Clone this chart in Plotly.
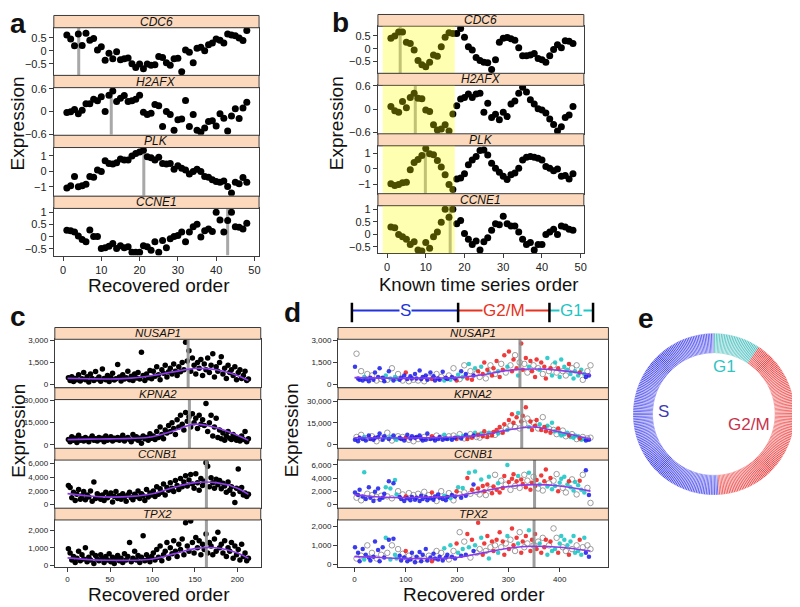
import plotly.graph_objects as go

# ======================= DATA =======================
genes_ab = ["CDC6", "H2AFX", "PLK", "CCNE1"]
x_ab = list(range(1, 49))

a_CDC6 = [0.61, 0.46, 0.2, 0.65, 0.21, 0.68, 0.41, 0.48, 0.04, 0.16,
          -0.36, -0.09, -0.3, -0.03, -0.34, -0.3, -0.27, -0.49, -0.64, -0.5,
          -0.68, -0.5, -0.55, -0.53, -0.21, -0.25, -0.45, -0.55, -0.3, -0.28,
          -0.8, 0.04, -0.05, -0.45, 0.1, 0.14, 0.01, 0.24, 0.3, 0.46,
          0.41, 0.3, 0.65, 0.61, 0.58, 0.5, 0.4, 0.78]
a_H2AFX = [-0.03, -0.01, 0.05, -0.06, 0.03, 0.2, 0.2, 0.32, 0.28, 0.39,
           0.0, 0.43, 0.54, 0.26, 0.35, 0.42, 0.26, 0.28, 0.32, 0.43,
           -0.02, -0.08, -0.05, 0.18, 0.15, -0.4, 0.0, -0.08, -0.5, -0.22,
           -0.2, 0.29, -0.4, -0.08, -0.5, -0.55, -0.44, -0.27, -0.25, -0.39,
           -0.06, -0.18, -0.52, -0.12, 0.07, -0.19, 0.09, 0.24]
a_PLK = [-1.08, -0.94, -0.34, -1.0, -0.94, -0.83, -0.34, -0.38, 0.08, -0.02,
         0.68, 0.5, 0.47, 0.55, 0.79, 0.72, 0.72, 0.98, 1.15, 1.25,
         1.36, 0.94, 0.87, 0.72, 0.9, 0.5, 0.47, 0.5, 0.13, 0.36,
         0.19, 0.08, -0.17, -0.02, 0.13, -0.02, -0.34, -0.38, -0.55, -0.66,
         -0.7, -0.62, -0.98, -1.4, -0.7, -0.81, -0.4, -0.7]
a_CCNE1 = [0.27, 0.25, 0.19, 0.03, -0.11, -0.21, 0.28, 0.01, 0.01, -0.48,
           -0.45, -0.39, -0.28, -0.48, -0.37, -0.45, -0.41, -0.64, -0.64, -0.64,
           -0.37, -0.41, -0.55, -0.21, -0.64, -0.15, -0.45, -0.08, 0.01, 0.05,
           0.19, -0.21, 0.19, 0.41, 0.51, -0.01, 0.25, 0.32, 0.21, 1.0,
           0.69, 0.19, 0.67, 1.0, 0.41, 0.39, 0.32, 0.55]

b_CDC6 = [0.41, 0.5, 0.66, 0.66, 0.25, 0.2, -0.05, -0.46, -0.63, -0.71,
          -0.53, -0.25, -0.3, 0.08, 0.45, 0.63, 0.6, 0.6, 0.79, 0.45,
          0.08, -0.05, -0.34, -0.46, -0.53, -0.55, -0.81, -0.43, 0.25, 0.41,
          0.44, 0.39, 0.33, 0.04, -0.28, -0.28, -0.25, -0.19, -0.38, -0.43,
          -0.53, -0.28, -0.03, 0.16, 0.04, 0.31, 0.29, 0.2]
b_H2AFX = [0.07, -0.04, -0.08, 0.2, 0.04, 0.3, 0.41, 0.28, 0.27, -0.02,
           -0.06, -0.4, -0.53, -0.51, -0.4, -0.56, -0.12, 0.09, 0.26, 0.3,
           0.39, 0.3, 0.39, 0.41, -0.08, 0.15, -0.21, -0.13, -0.27, -0.08,
           -0.19, 0.13, 0.21, 0.41, 0.56, 0.44, 0.24, 0.13, 0.01, -0.02,
           -0.1, -0.25, -0.39, -0.56, -0.45, -0.21, -0.15, 0.07]
b_PLK = [-0.97, -1.07, -1.01, -0.9, -0.86, -0.06, 0.4, 0.6, 0.85, 1.3,
         0.96, 0.9, 0.53, 0.11, -0.38, -1.01, -1.33, -0.65, -0.59, -0.32,
         0.25, 0.57, 0.79, 1.17, 1.21, 0.88, 0.36, 0.04, -0.23, -0.48,
         -0.69, -0.38, -0.27, 0.04, 0.57, 0.74, 0.79, 0.74, 0.67, 0.57,
         0.15, 0.04, -0.13, -0.02, -0.48, -0.44, -0.65, -0.32]
b_CCNE1 = [0.29, 0.26, -0.01, -0.1, -0.2, -0.41, -0.3, -0.63, -0.67, -0.33,
           -0.56, -0.1, 0.09, 0.48, 1.0, 0.68, 1.0, 0.42, 0.55, 0.03,
           -0.2, -0.41, -0.27, -0.63, -0.3, -0.14, 0.16, 0.42, 0.38, 0.72,
           0.42, 0.33, 0.33, 0.09, -0.2, -0.41, -0.33, -0.63, -0.41, -0.41,
           -0.01, 0.09, 0.2, -0.01, 0.33, 0.29, 0.2, 0.16]

a_peak = [4.1, 12.6, 21.1, 43.0]
b_peak = [3.4, 7.3, 9.9, 16.3]
b_known_span = [-1.1, 17.5]
ab_xticks = [0, 10, 20, 30, 40, 50]

genes_cd = ["NUSAP1", "KPNA2", "CCNB1", "TPX2"]
# panel c: every second cell of the recovered order (1, 3, 5, ... 213)
c_NUSAP1 = [450, 250, 520, 180, 400, 300, 650, 220, 380, 800,
            300, 520, 150, 700, 400, 250, 880, 350, 500, 200,
            1050, 400, 300, 600, 180, 450, 750, 280, 380, 1350,
            500, 220, 650, 350, 450, 900, 300, 550, 250, 700,
            420, 800, 350, 2200, 600, 250, 700, 450, 950, 380,
            900, 550, 1200, 650, 300, 1000, 750, 1300, 500, 850,
            1100, 700, 1400, 900, 600, 1200, 850, 1500, 1000, 2900,
            1600, 2300, 900, 1800, 1300, 700, 1500, 1100, 1700, 600,
            1400, 1000, 1800, 800, 1300, 2100, 500, 1200, 900, 1500,
            1900, 700, 1100, 400, 1300, 800, 1000, 600, 1200, 300,
            800, 1000, 400, 600, 900, 250, 350]
c_KPNA2 = [3500, 2000, 5500, 3000, 4500, 1500, 6500, 3000, 4000, 2500,
           5000, 3500, 2000, 4500, 6000, 3000, 4000, 2500, 5000, 3500,
           4500, 2000, 6000, 3000, 4000, 5500, 2500, 4500, 3500, 5000,
           3000, 4500, 6500, 2500, 4000, 5000, 3500, 2000, 7000, 4000,
           5500, 3000, 4500, 1000, 6000, 4000, 5000, 3000, 7500, 4500,
           6000, 3500, 9000, 5000, 12000, 7000, 4000, 10000, 8000, 13000,
           9000, 15000, 11000, 7000, 17000, 12000, 20000, 14000, 10000, 22000,
           16000, 19000, 12000, 21000, 15000, 18000, 11000, 20000, 14000, 17000,
           13000, 28000, 9000, 15000, 20000, 6000, 12000, 18000, 5000, 10000,
           4000, 8000, 3000, 6000, 9000, 4500, 3500, 7000, 5000, 3000,
           4500, 2500, 6000, 3500, 9000, 2000, 4000]
c_CCNB1 = [2800, 2500, 1000, 1800, 600, 1500, 2200, 800, 1300, 1900,
           700, 1400, 1100, 2000, 500, 3300, 900, 1600, 1300, 800,
           1400, 600, 1800, 1000, 1300, 1700, 400, 1200, 1900, 900,
           1300, 800, 1600, 1100, 500, 1400, 1800, 1000, 700, 1500,
           1200, 2000, 900, 1600, 1300, 600, 2200, 1100, 1700, 1400,
           2000, 1200, 2600, 1500, 2300, 1800, 3000, 1400, 2500, 2100,
           3200, 2400, 1900, 3500, 2800, 2200, 3800, 2600, 3300, 4200,
           2700, 3600, 4400, 3000, 2400, 4500, 3200, 2100, 3800, 2800,
           3400, 6100, 5600, 2600, 3900, 3200, 2400, 3700, 2900, 3500,
           2300, 3100, 2700, 1800, 3300, 2100, 2600, 1500, 300, 2400,
           5200, 1900, 2500, 1400, 1700, 1200, 1500]
c_TPX2 = [950, 700, 300, 500, 150, 400, 800, 250, 600, 350,
          1000, 200, 450, 300, 700, 100, 550, 350, 250, 600,
          400, 150, 500, 300, 650, 200, 450, 100, 350, 550,
          250, 400, 150, 650, 300, 500, 1300, 200, 400, 800,
          300, 550, 150, 450, 1700, 250, 600, 350, 200, 500,
          700, 300, 900, 450, 1100, 250, 600, 800, 1300, 400,
          1000, 650, 1400, 800, 500, 1200, 900, 1500, 600, 2450,
          1100, 800, 2550, 1300, 700, 1600, 1000, 1400, 600, 1200,
          900, 1800, 700, 1300, 1100, 600, 1500, 800, 1900, 1000,
          1200, 700, 1400, 500, 1000, 800, 1300, 400, 1100, 600,
          900, 300, 1200, 500, 700, 250, 400]
c_step = 2
c_peak = [142, 143.5, 163.5, 163.5]
c_fit_x = [0, 25, 50, 75, 100, 125, 150, 175, 200, 213]
c_fit_NUSAP1 = [400, 370, 360, 420, 600, 850, 1080, 1000, 600, 250]
c_fit_KPNA2 = [3500, 3800, 4000, 4300, 5500, 9500, 14000, 11500, 6500, 3000]
c_fit_CCNB1 = [1600, 1250, 1100, 1200, 1600, 2500, 3200, 3200, 2400, 1500]
c_fit_TPX2 = [420, 320, 280, 280, 350, 650, 950, 1000, 700, 400]
c_xticks = [0, 50, 100, 150, 200]

# panel d: every third cell of the recovered order (1, 4, 7, ... 460)
# phase code per cell: b = S, r = G2/M, c = G1, g = unlabelled
d_phase = list("bgbbgbcbgb" "bgbbgbbgbb" "cgbcgbccgb" "bgbrbgbbgb"
               "bgbbbgbbgb" "rbbgbbgbcb" "bgcbgbrcgb" "cgbrcgrbcg"
               "rgcrrgrcgr" "rgrcrgrrgc" "rgrrgrcgrr" "grgcrrgrrg"
               "crgrrcgrcg" "cgrccgcgcr" "cgccgcrcgc" "bgbg")
d_NUSAP1 = [1200, 2100, 400, 300, 900, 250, 500, 350, 700, 200,
            450, 600, 300, 800, 250, 500, 1100, 350, 450, 200,
            600, 300, 900, 400, 1100, 250, 500, 350, 700, 300,
            450, 250, 600, 800, 350, 200, 550, 400, 300, 700,
            400, 250, 950, 350, 500, 200, 600, 300, 450, 800,
            350, 550, 250, 700, 400, 300, 500, 850, 250, 450,
            350, 600, 300, 500, 1100, 400, 250, 650, 350, 900,
            500, 1300, 700, 400, 1400, 900, 300, 600, 1100, 750,
            900, 500, 1200, 700, 1500, 400, 1000, 800, 1300, 600,
            1100, 700, 1600, 900, 500, 1400, 1000, 2000, 800, 1200,
            2250, 1300, 900, 1700, 2000, 1100, 600, 1500, 2800, 1000,
            1400, 1800, 800, 1200, 1600, 900, 1300, 500, 1700, 1100,
            1000, 1500, 700, 1200, 400, 1800, 900, 1100, 600, 1300,
            1500, 800, 1100, 500, 1700, 900, 1200, 600, 1000, 1400,
            700, 1100, 400, 900, 1300, 600, 800, 1000, 300, 700,
            500, 900, 600, 1300]
d_KPNA2 = [3000, 5000, 2000, 4500, 6500, 3500, 5000, 2500, 4000, 6000,
           3500, 5500, 3000, 4500, 2000, 5000, 7500, 4000, 3000, 5500,
           4500, 8000, 3500, 5000, 2500, 6000, 4000, 3000, 5500, 4500,
           3500, 5000, 2500, 4500, 6500, 3000, 4000, 5500, 2000, 4500,
           5000, 3500, 6000, 4000, 2500, 5000, 3000, 7500, 4500, 3500,
           5500, 4000, 2500, 6000, 3500, 5000, 4500, 3000, 6500, 4000,
           3500, 5500, 4000, 3000, 6000, 4500, 3500, 5000, 7000, 4000,
           5500, 4000, 6500, 3500, 5000, 7000, 4500, 6000, 8000, 5000,
           6500, 4500, 7500, 5500, 9000, 6000, 5000, 8000, 7000, 6000,
           8500, 6500, 10000, 7500, 12000, 9000, 8000, 14000, 11000, 10000,
           17000, 13000, 21000, 15000, 12000, 19000, 22000, 11000, 16000, 20000,
           14000, 26000, 18000, 12000, 16000, 10000, 15000, 13000, 17000, 11000,
           14000, 10000, 19000, 12000, 9000, 13000, 11000, 8000, 15000, 10000,
           9000, 7000, 11000, 8000, 6000, 9500, 7000, 5500, 8000, 6000,
           5000, 7000, 4500, 6000, 3500, 5500, 4000, 3000, 5000, 3500,
           2500, 4000, 3000, 4500]
d_CCNB1 = [1800, 1000, 1400, 2200, 600, 1200, 4900, 800, 1600, 2600,
           1000, 1400, 500, 1900, 1100, 2400, 700, 1300, 1000, 1600,
           2600, 1200, 3500, 2400, 900, 3200, 3700, 1500, 2000, 1100,
           800, 1500, 500, 1200, 900, 1700, 600, 1100, 1400, 700,
           1000, 1600, 500, 1300, 800, 1900, 1100, 600, 1400, 900,
           1800, 700, 1200, 500, 1500, 1000, 2000, 800, 1300, 600,
           1100, 1700, 900, 1400, 600, 1200, 2000, 2600, 1500, 1000,
           2500, 1800, 1300, 4000, 4800, 1600, 2200, 3000, 5000, 1900,
           2400, 1500, 3800, 2800, 2000, 1400, 3000, 4200, 2300, 1700,
           2700, 4500, 2200, 3200, 1800, 3600, 2500, 4300, 3000, 6000,
           3400, 2200, 3900, 4600, 2800, 3500, 4300, 2500, 3800, 3100,
           4500, 2600, 3600, 4800, 2200, 3300, 4200, 2800, 3700, 2400,
           3000, 4400, 2100, 3500, 5300, 2700, 3200, 4000, 2300, 3600,
           2800, 4600, 2000, 3300, 3900, 2500, 4200, 1800, 3000, 3500,
           2600, 3800, 2100, 3400, 1500, 2900, 3600, 2200, 4500, 1800,
           5200, 2500, 1400, 200]
d_TPX2 = [900, 300, 600, 150, 450, 800, 250, 500, 1000, 350,
          200, 600, 400, 1200, 300, 750, 150, 500, 900, 350,
          1400, 600, 1300, 250, 1000, 1350, 500, 300, 800, 450,
          200, 550, 350, 700, 150, 450, 250, 600, 300, 100,
          400, 250, 650, 150, 500, 300, 800, 200, 450, 350,
          150, 550, 300, 700, 250, 400, 600, 200, 850, 350,
          500, 250, 1000, 400, 700, 300, 1100, 600, 1700, 450,
          800, 1200, 500, 1600, 900, 350, 1300, 700, 1000, 600,
          2200, 800, 1400, 500, 1100, 700, 1500, 300, 900, 1200,
          700, 1000, 1300, 600, 1700, 900, 1200, 500, 1100, 1500,
          800, 1300, 1900, 1000, 700, 1400, 1100, 1700, 600, 1200,
          900, 1500, 1100, 1800, 700, 1300, 1000, 1600, 800, 1200,
          1100, 600, 1400, 900, 1300, 500, 1000, 1200, 700, 1900,
          800, 1400, 600, 1100, 1500, 900, 1300, 700, 1000, 500,
          1200, 800, 1500, 600, 1000, 700, 1300, 500, 900, 1400,
          600, 1000, 400, 800]
d_step = 3
d_peak = [322.5, 326, 351, 350]
d_fit_x = [0, 50, 100, 150, 200, 250, 300, 350, 400, 460]
d_fit_NUSAP1 = [450, 420, 400, 420, 450, 650, 950, 1050, 950, 650]
d_fit_KPNA2 = [4500, 4300, 4300, 4500, 5000, 6500, 10000, 12000, 8500, 3500]
d_fit_CCNB1 = [1500, 1100, 1000, 1100, 1300, 2000, 2700, 3000, 2800, 2000]
d_fit_TPX2 = [400, 350, 300, 300, 350, 600, 850, 950, 900, 700]
d_xticks = [0, 100, 200, 300, 400]
d_phase_names = ["S", "G2/M", "G1"]
d_phase_bounds = [-5, 202, 380, 465]

e_phase_names = ["S", "G2/M", "G1"]
e_stripes = [153, 119, 28]

# ======================= LAYOUT HELPERS =======================
W, H = 800, 607
OFF = 8  # the page body adds an 8px margin around the figure
FONT = "Liberation Sans, Arial, Helvetica, sans-serif"
FRAME = "#3c3c3c"
STRIP = "#FCD9BC"
PHASE_COL = {"b": "rgba(25,25,235,0.85)", "r": "rgba(235,25,25,0.85)",
             "c": "rgba(20,195,195,0.85)"}


def fx(p):
    return (p - OFF) / W


def fy(p):
    return 1 - (p - OFF) / H


layout = dict(width=W, height=H, margin=dict(l=0, r=0, t=0, b=0),
              paper_bgcolor="white", plot_bgcolor="white", showlegend=False,
              font=dict(family=FONT, color="#111"))
shapes, annotations = [], []
fig = go.Figure()
counter = [0]


def new_axes(xl, xr, top, bottom, xrange, yrange, yticks, xticks, tickfs, yfmt=None):
    counter[0] += 1
    s = "" if counter[0] == 1 else str(counter[0])
    layout["xaxis" + s] = dict(
        domain=[fx(xl), fx(xr)], range=xrange, anchor="y" + s,
        showline=True, mirror=True, linecolor=FRAME, linewidth=1,
        showgrid=False, zeroline=False,
        ticks="outside" if xticks else "", tickvals=xticks if xticks else [],
        showticklabels=bool(xticks), ticklen=4, tickcolor=FRAME,
        tickfont=dict(size=tickfs, color="#222"))
    ya = dict(domain=[fy(bottom), fy(top)], range=yrange, anchor="x" + s,
              showline=True, mirror=True, linecolor=FRAME, linewidth=1,
              showgrid=False, zeroline=False, ticks="outside", tickvals=yticks,
              ticklen=4, tickcolor=FRAME, tickfont=dict(size=tickfs, color="#222"))
    if yfmt:
        ya["tickformat"] = yfmt
    layout["yaxis" + s] = ya
    return "x" + s, "y" + s


def strip(xl, xr, top, bottom, text, fs):
    shapes.append(dict(type="rect", xref="paper", yref="paper", x0=fx(xl), x1=fx(xr),
                       y0=fy(bottom), y1=fy(top), fillcolor=STRIP,
                       line=dict(color=FRAME, width=1), layer="above"))
    annotations.append(dict(text="<i>" + text + "</i>", x=fx((xl + xr) / 2),
                            y=fy((top + bottom) / 2), xref="paper", yref="paper",
                            showarrow=False, font=dict(size=fs, color="#111"),
                            xanchor="center", yanchor="middle"))


def label(text, x, y, size, color="#111", bold=False, angle=0):
    annotations.append(dict(text=("<b>%s</b>" % text) if bold else text, x=fx(x), y=fy(y),
                            xref="paper", yref="paper", showarrow=False, textangle=angle,
                            font=dict(size=size, color=color, family=FONT),
                            xanchor="center", yanchor="middle"))


# ======================= PANELS a & b =======================
def add_ab(xl, xr, tops, bottoms, strip_h, xrange, yranges, series, peaks, yellow=None):
    yticks = [[-0.5, 0, 0.5], [-0.6, 0, 0.6], [-1, 0, 1], [-0.5, 0, 0.5, 1]]
    for k in range(4):
        xa, ya = new_axes(xl, xr, tops[k], bottoms[k], xrange, yranges[k], yticks[k],
                          ab_xticks if k == 3 else None, 11)
        strip(xl, xr, max(tops[k] - strip_h, OFF + 0.5), tops[k], genes_ab[k], 12)
        fig.add_trace(go.Scatter(x=[peaks[k], peaks[k]], y=yranges[k], mode="lines",
                                 line=dict(color="#A8A8A8", width=3),
                                 xaxis=xa, yaxis=ya, hoverinfo="skip"))
        fig.add_trace(go.Scatter(x=x_ab, y=series[k], mode="markers",
                                 marker=dict(color="black", size=7),
                                 xaxis=xa, yaxis=ya))
        if yellow:
            shapes.append(dict(type="rect", xref=xa, yref=ya + " domain",
                               x0=yellow[0], x1=yellow[1], y0=0, y1=1,
                               fillcolor="rgba(255,255,0,0.30)", line=dict(width=0),
                               layer="above"))


add_ab(54, 260, [22, 83, 144, 206], [70, 131, 193, 254], 12.5, [-2.4, 51.2],
       [[-0.92, 0.89], [-0.62, 0.63], [-1.57, 1.53], [-0.77, 1.16]],
       [a_CDC6, a_H2AFX, a_PLK, a_CCNE1], a_peak)
add_ab(379.3, 586, [20.5, 80.7, 142.3, 203.3], [68.3, 130, 191, 251.7], 12.3, [-2.35, 50.8],
       [[-0.96, 0.88], [-0.63, 0.61], [-1.6, 1.47], [-0.76, 1.14]],
       [b_CDC6, b_H2AFX, b_PLK, b_CCNE1], b_peak, yellow=b_known_span)

# ======================= PANELS c & d =======================
cd_tops = [339.3, 400.7, 462.3, 523.3]
cd_bottoms = [388.3, 450, 511, 571.7]
cd_yticks = [[0, 1500, 3000], [0, 15000, 30000], [0, 2000, 4000, 6000], [0, 1000, 2000]]

c_series = [c_NUSAP1, c_KPNA2, c_CCNB1, c_TPX2]
c_fits = [c_fit_NUSAP1, c_fit_KPNA2, c_fit_CCNB1, c_fit_TPX2]
c_ranges = [[-223, 3095], [-2200, 30700], [-470, 6490], [-136, 2605]]
for k in range(4):
    xa, ya = new_axes(55, 261.7, cd_tops[k], cd_bottoms[k], [-15, 227.5], c_ranges[k],
                      cd_yticks[k], c_xticks if k == 3 else None, 8, ",d")
    strip(55, 261.7, cd_tops[k] - 12, cd_tops[k], genes_cd[k], 11.5)
    vals = c_series[k]
    fig.add_trace(go.Scatter(x=[1 + c_step * i for i in range(len(vals))], y=vals,
                             mode="markers", marker=dict(color="black", size=5.5),
                             xaxis=xa, yaxis=ya))
    fig.add_trace(go.Scatter(x=[c_peak[k], c_peak[k]], y=c_ranges[k], mode="lines",
                             line=dict(color="rgba(150,150,150,0.9)", width=3),
                             xaxis=xa, yaxis=ya, hoverinfo="skip"))
    fig.add_trace(go.Scatter(x=c_fit_x, y=c_fits[k], mode="lines",
                             line=dict(color="#8C3CE6", width=1.6, shape="spline"),
                             xaxis=xa, yaxis=ya))

d_series = [d_NUSAP1, d_KPNA2, d_CCNB1, d_TPX2]
d_fits = [d_fit_NUSAP1, d_fit_KPNA2, d_fit_CCNB1, d_fit_TPX2]
d_ranges = [[-223, 3095], [-2770, 31400], [-555, 6750], [-177, 2350]]
d_first_x = None
for k in range(4):
    xa, ya = new_axes(339.3, 610.7, cd_tops[k], cd_bottoms[k], [-32, 495], d_ranges[k],
                      cd_yticks[k], d_xticks if k == 3 else None, 8, ",d")
    if d_first_x is None:
        d_first_x = xa
    strip(339.3, 610.7, cd_tops[k] - 12, cd_tops[k], genes_cd[k], 11.5)
    vals = d_series[k]
    n = min(len(vals), len(d_phase))
    for code in ["g", "c", "r", "b"]:
        xs = [1 + d_step * i for i in range(n) if d_phase[i] == code]
        ys = [vals[i] for i in range(n) if d_phase[i] == code]
        if code == "g":
            mk = dict(symbol="circle-open", size=5.5, color="rgba(140,140,140,0.85)",
                      line=dict(width=1))
        else:
            mk = dict(symbol="circle", size=4.5, color=PHASE_COL[code])
        fig.add_trace(go.Scatter(x=xs, y=ys, mode="markers", marker=mk,
                                 xaxis=xa, yaxis=ya))
    fig.add_trace(go.Scatter(x=[d_peak[k], d_peak[k]], y=d_ranges[k], mode="lines",
                             line=dict(color="rgba(140,140,140,0.85)", width=3),
                             xaxis=xa, yaxis=ya, hoverinfo="skip"))
    fig.add_trace(go.Scatter(x=d_fit_x, y=d_fits[k], mode="lines",
                             line=dict(color="#8C3CE6", width=1.6, shape="spline"),
                             xaxis=xa, yaxis=ya))

# phase bar above panel d
bar_cols = ["#2233DD", "#E53322", "#22C4C4"]
for i in range(3):
    shapes.append(dict(type="line", xref=d_first_x, yref="paper",
                       x0=d_phase_bounds[i], x1=d_phase_bounds[i + 1],
                       y0=fy(310), y1=fy(310), line=dict(color=bar_cols[i], width=2)))
for bnd in d_phase_bounds:
    shapes.append(dict(type="line", xref=d_first_x, yref="paper", x0=bnd, x1=bnd,
                       y0=fy(322), y1=fy(302), line=dict(color="black", width=2.5)))
for i in range(3):
    annotations.append(dict(text=d_phase_names[i], xref=d_first_x, yref="paper",
                            x=(d_phase_bounds[i] + d_phase_bounds[i + 1]) / 2, y=fy(310),
                            showarrow=False, bgcolor="white", borderpad=0,
                            font=dict(size=17, color=bar_cols[i], family=FONT),
                            xanchor="center", yanchor="middle"))

# ======================= PANEL e =======================
e_cols = {"S": "#4646EE", "G2/M": "#EE4848", "G1": "#48BFBF"}
N = sum(e_stripes)
wdeg = 360.0 / N
thetas, cols = [], []
k = 0
for name, cnt in zip(e_phase_names, e_stripes):
    for j in range(cnt):
        thetas.append((k + 0.5) * wdeg)
        cols.append(e_cols[name])
        k += 1
fig.add_trace(go.Barpolar(r=[1] * N, theta=thetas, width=[wdeg] * N,
                          marker=dict(color=cols, line=dict(color="white", width=0.5)),
                          subplot="polar", hoverinfo="skip"))
layout["polar"] = dict(domain=dict(x=[fx(634), fx(799)], y=[fy(498), fy(333)]),
                       hole=0.75, bgcolor="rgba(0,0,0,0)",
                       radialaxis=dict(visible=False, range=[0, 1]),
                       angularaxis=dict(visible=False, rotation=90,
                                        direction="counterclockwise"))
label("S", 666, 413, 17, "#3C3CB4")
label("G1", 727, 367, 17, "#30C4C4")
label("G2/M", 752, 426, 17, "#C8324B")

# ======================= TITLES & PANEL LETTERS =======================
label("Expression", 18.5, 119, 19, angle=-90)
label("Expression", 338.5, 119, 19, angle=-90)
label("Expression", 18.5, 432, 19, angle=-90)
label("Expression", 292, 432, 19, angle=-90)
label("Recovered order", 160, 285, 19)
label("Known time series order", 480, 283, 18.5)
label("Recovered order", 160, 599, 19)
label("Recovered order", 476, 599, 19)
label("a", 18, 18, 28, bold=True)
label("b", 341.5, 17, 28, bold=True)
label("c", 18, 316, 28, bold=True)
label("d", 294, 312, 28, bold=True)
label("e", 648.5, 318, 28, bold=True)

layout["shapes"] = shapes
layout["annotations"] = annotations
fig.update_layout(**layout)
fig.write_html("out.html")
